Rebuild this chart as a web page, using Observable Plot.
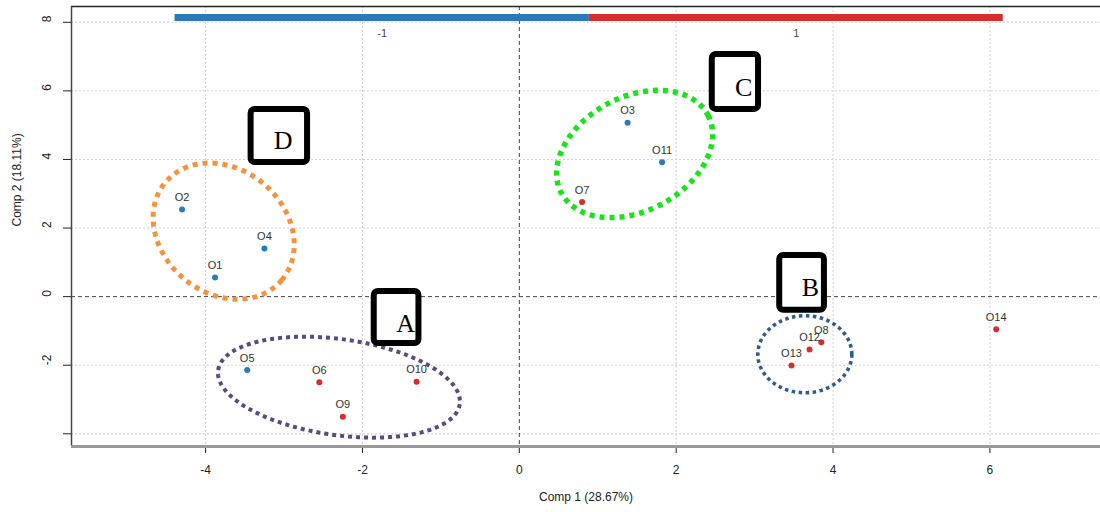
<!DOCTYPE html>
<html>
<head>
<meta charset="utf-8">
<script src="https://cdn.jsdelivr.net/npm/d3@7"></script>
<script src="https://cdn.jsdelivr.net/npm/@observablehq/plot@0.6"></script>
<style>
  html, body { margin: 0; padding: 0; background: #fff; }
  #chart svg { display: block; }
</style>
</head>
<body>
<div id="chart"></div>
<script>
// ---- data ----
const obsNames = ["O1","O2","O3","O4","O5","O6","O7","O8","O9","O10","O11","O12","O13","O14"];
const comp1 = [-3.88,-4.30,1.38,-3.25,-3.47,-2.55,0.80,3.85,-2.25,-1.31,1.82,3.70,3.47,6.08];
const comp2 = [0.56,2.54,5.07,1.40,-2.14,-2.50,2.76,-1.33,-3.50,-2.48,3.92,-1.54,-2.01,-0.95];
const obsGroup = ["-1","-1","-1","-1","-1","1","1","1","1","1","-1","1","1","1"];

const groupNames = ["-1","1"];
const groupColors = ["#2a7ab9","#d62d2d"];
const barStart = [-4.39, 0.893];
const barEnd = [0.893, 6.17];
const barLevel = 8.14;

const xTicks = [-4,-2,0,2,4,6];
const yTicks = [-4,-2,0,2,4,6,8];
const yTickLabels = [-2,0,2,4,6,8];
const xLabel = "Comp 1 (28.67%)";
const yLabel = "Comp 2 (18.11%)";

// cluster ellipses: centre (data), semi-axes (px), rotation (deg)
const clusterNames = ["A","B","C","D"];
const clusterCx = [-2.30, 3.64, 1.47, -3.77];
const clusterCy = [-2.64, -1.68, 4.16, 1.91];
const clusterA = [122, 47, 83, 76];
const clusterB = [48, 38.5, 57, 62];
const clusterAngle = [8, 0, -28, 40];
const clusterColors = ["#5b4a80","#2f5c8f","#16e616","#f5923e"];
const clusterWidths = [4, 3.6, 5.5, 5];
const clusterDash = ["4,4","3.5,3.5","5,5","5,5"];

// label boxes
const boxX1 = [-1.85, 3.32, 2.46, -3.42];
const boxX2 = [-1.28, 3.89, 3.05, -2.70];
const boxY1 = [0.15, 1.20, 7.06, 5.46];
const boxY2 = [-1.37, -0.40, 5.46, 3.91];
const letterX = [-1.45, 3.71, 2.86, -3.01];
const letterY = [-0.79, 0.27, 6.10, 4.55];

// ---- layout ----
const W = 1100, H = 512;
const mL = 71, mR = 0, mT = 6, mB = 66;
const xDomain = [-5.71, 7.41];
const yDomain = [-4.37, 8.46];
const pxPerX = (W - mL - mR) / (xDomain[1] - xDomain[0]);
const pxPerY = (H - mT - mB) / (yDomain[1] - yDomain[0]);

const points = obsNames.map((n, i) => ({name: n, x: comp1[i], y: comp2[i], g: obsGroup[i]}));
const bars = groupNames.map((g, i) => ({g, x1: barStart[i], x2: barEnd[i], xm: (barStart[i] + barEnd[i]) / 2}));
const colorOf = g => groupColors[groupNames.indexOf(g)];

function ellipsePath(i) {
  const pts = [];
  const phi = clusterAngle[i] * Math.PI / 180;
  const n = 180;
  for (let k = 0; k <= n; k++) {
    const t = 2 * Math.PI * k / n;
    const ex = clusterA[i] * Math.cos(t), ey = clusterB[i] * Math.sin(t);
    const sx = ex * Math.cos(phi) - ey * Math.sin(phi);
    const sy = ex * Math.sin(phi) + ey * Math.cos(phi);
    pts.push({x: clusterCx[i] + sx / pxPerX, y: clusterCy[i] - sy / pxPerY});
  }
  return pts;
}

const boxes = clusterNames.map((n, i) => ({n, x1: boxX1[i], x2: boxX2[i], y1: boxY1[i], y2: boxY2[i], lx: letterX[i], ly: letterY[i]}));

const tickFont = "'Liberation Sans Narrow', 'Liberation Sans', Arial, sans-serif";

const marks = [
  // grid
  Plot.ruleX(xTicks.filter(d => d !== 0), {stroke: "#cfcfcf", strokeDasharray: "2,2", strokeWidth: 1}),
  Plot.ruleY(yTicks.filter(d => d !== 0), {stroke: "#cfcfcf", strokeDasharray: "2,2", strokeWidth: 1}),
  // zero lines
  Plot.ruleX([0], {stroke: "#444", strokeDasharray: "4,3", strokeWidth: 1}),
  Plot.ruleY([0], {stroke: "#444", strokeDasharray: "4,3", strokeWidth: 1}),
  // frame
  Plot.ruleY([yDomain[1]], {stroke: "#222", strokeWidth: 1.5}),
  Plot.ruleX([xDomain[0]], {stroke: "#444", strokeWidth: 1.5}),
  Plot.ruleY([yDomain[0]], {stroke: "#999", strokeWidth: 3}),
  // group bar
  Plot.ruleY(bars, {y: () => barLevel, x1: "x1", x2: "x2", stroke: d => colorOf(d.g), strokeWidth: 7}),
  Plot.text(bars, {x: "xm", y: () => barLevel, text: "g", dy: 16, fontSize: 11, fill: "#444", fontFamily: tickFont}),
  // ellipses
  ...clusterNames.map((n, i) => Plot.line(ellipsePath(i), {x: "x", y: "y", stroke: clusterColors[i], strokeWidth: clusterWidths[i], strokeDasharray: clusterDash[i], strokeLinecap: "butt"})),
  // boxes
  Plot.rect(boxes, {x1: "x1", x2: "x2", y1: "y1", y2: "y2", fill: "#fff", stroke: "#000", strokeWidth: 6, rx: 4}),
  Plot.text(boxes, {x: "lx", y: "ly", text: "n", fontSize: 26, fontFamily: "'Liberation Serif', 'DejaVu Serif', serif", fill: "#000"}),
  // points
  Plot.dot(points, {x: "x", y: "y", r: 3, fill: d => colorOf(d.g), stroke: "none"}),
  Plot.text(points, {x: "x", y: "y", text: "name", dy: -12, fontSize: 11, fill: "#333", fontFamily: "Arial, 'Liberation Sans', sans-serif"}),
  // y tick labels and axis titles
  Plot.text(yTickLabels, {y: d => d, frameAnchor: "left", text: d => String(d), rotate: -90, dx: -24, fontSize: 12, fill: "#222", fontFamily: tickFont}),
  Plot.text([yLabel], {frameAnchor: "left", text: d => d, rotate: -90, dx: -54, fontSize: 12, fill: "#222", fontFamily: tickFont}),
  Plot.text([xLabel], {frameAnchor: "bottom", text: d => d, dy: 54, fontSize: 12, fill: "#222", fontFamily: tickFont})
];

const chart = Plot.plot({
  width: W,
  height: H,
  marginLeft: mL,
  marginRight: mR,
  marginTop: mT,
  marginBottom: mB,
  style: {background: "#fff", fontFamily: tickFont, fontSize: "12px", color: "#222"},
  x: {domain: xDomain, ticks: xTicks, tickFormat: d => String(d), tickSize: 7, tickPadding: 12, label: null, line: false},
  y: {domain: yDomain, ticks: yTicks, tickFormat: () => "", tickSize: 8, label: null},
  marks
});
document.getElementById("chart").appendChild(chart);
</script>
</body>
</html>
